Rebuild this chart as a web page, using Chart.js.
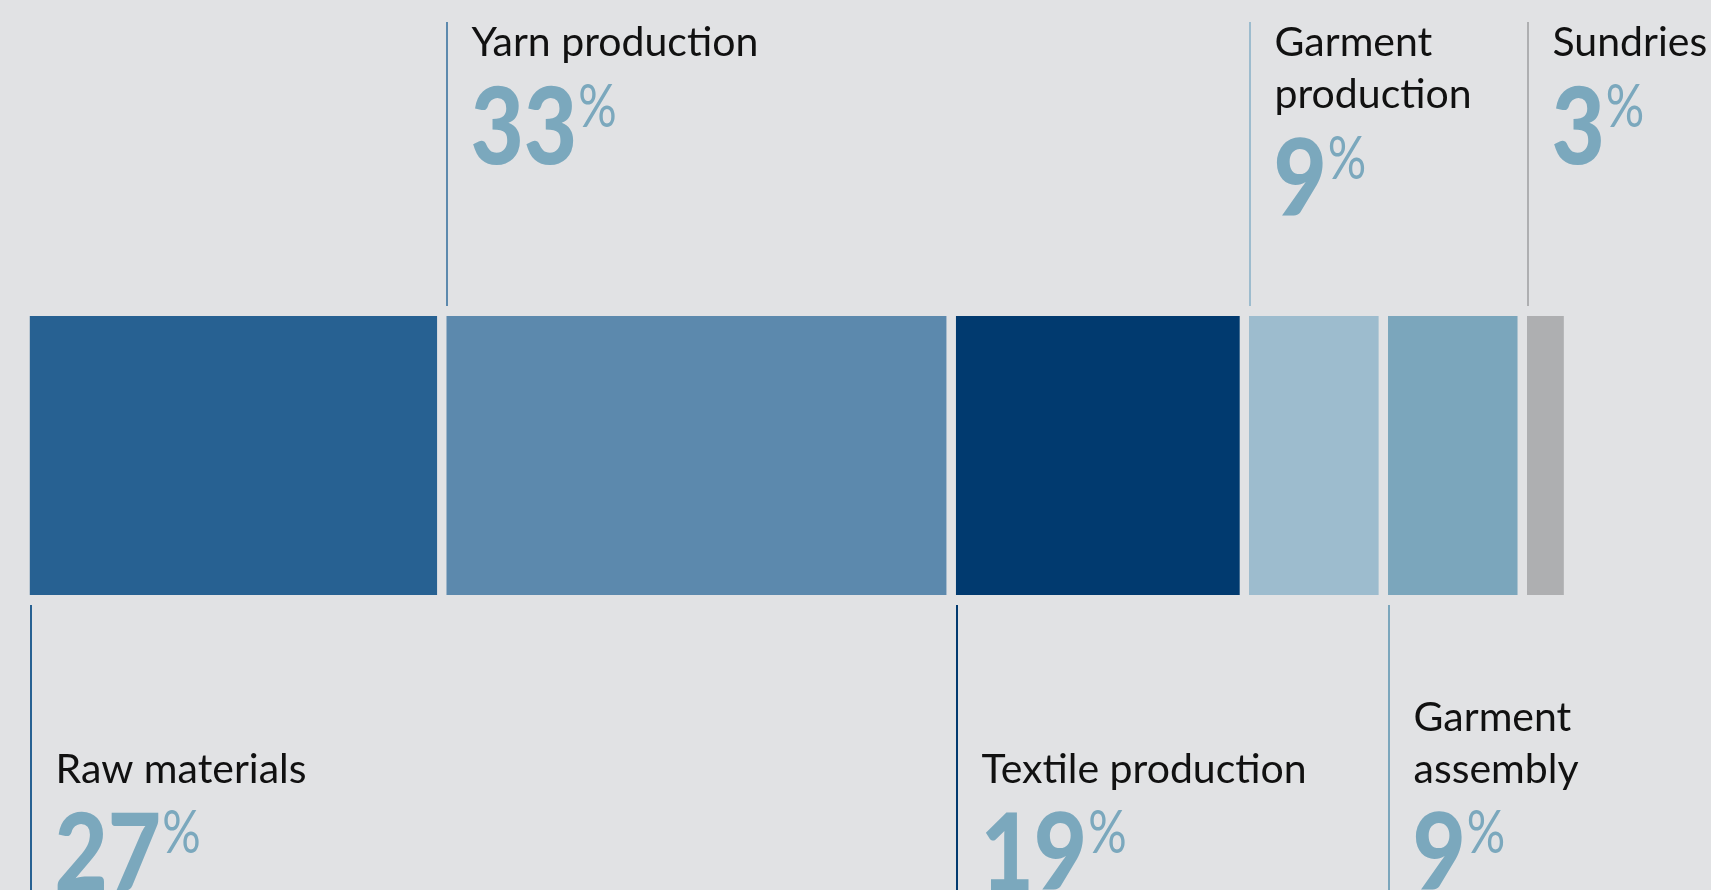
<!DOCTYPE html>
<html>
<head>
<meta charset="utf-8">
<script src="https://cdn.jsdelivr.net/npm/chart.js@4/dist/chart.umd.min.js"></script>
<style>
  html, body { margin: 0; padding: 0; background: #e1e2e4; }
  #wrap { width: 1711px; height: 890px; }
  canvas { display: block; }
</style>
</head>
<body>
<div id="wrap"><canvas id="chart" width="1711" height="890"></canvas></div>
<script>
// Stages of the garment value chain and their share of the total
const stages = ['Raw materials', 'Yarn production', 'Textile production', 'Garment production', 'Garment assembly', 'Sundries'];
const shares = [27, 33, 19, 9, 9, 3];
const stageLabelLines = [['Raw materials'], ['Yarn production'], ['Textile production'], ['Garment', 'production'], ['Garment', 'assembly'], ['Sundries']];
const labelSide = ['below', 'above', 'below', 'above', 'below', 'above'];
const barColors = ['#276192', '#5c89ad', '#013a6f', '#9dbcce', '#7ba6bc', '#aeafb1'];

const BG = '#e1e2e4';
const NUMBER_COLOR = '#7ba8bd';
const LABEL_FONT = '400 41px Lato, "Open Sans", sans-serif';
const DIGIT_FONT = '900 107px Lato, "Open Sans", sans-serif';
const PCT_FONT = '400 60px Lato, "Open Sans", sans-serif';

// Leader lines, stage names and share figures around each segment
const calloutPlugin = {
  id: 'callouts',
  afterDatasetsDraw(chart) {
    const ctx = chart.ctx;
    const area = chart.chartArea;
    const H = chart.height;
    chart.data.datasets.forEach((ds, i) => {
      const bar = chart.getDatasetMeta(i).data[0];
      if (!bar) return;
      const left = Math.min(bar.x, bar.base);
      const lineX = Math.round(left) + 1;
      const textX = lineX + 24.5;
      const lines = stageLabelLines[i];
      ctx.save();
      ctx.strokeStyle = barColors[i];
      ctx.lineWidth = 2;
      ctx.beginPath();
      let numTop;
      const baselines = [];
      if (labelSide[i] === 'above') {
        ctx.moveTo(lineX, 22);
        ctx.lineTo(lineX, area.top - 10);
        lines.forEach((_, k) => baselines.push(56 + 52 * k));
        numTop = baselines[baselines.length - 1] + 31;
      } else {
        ctx.moveTo(lineX, area.bottom + 10);
        ctx.lineTo(lineX, H);
        const n = lines.length;
        lines.forEach((_, k) => baselines.push(783 - 52 * (n - 1 - k)));
        numTop = 813;
      }
      ctx.stroke();

      // stage name
      ctx.fillStyle = '#111111';
      ctx.font = LABEL_FONT;
      ctx.textAlign = 'left';
      ctx.textBaseline = 'alphabetic';
      lines.forEach((t, k) => ctx.fillText(t, textX, baselines[k]));

      // share figure, digits then a raised percent sign
      const value = ds.data[0];
      const digits = String(value);
      const sx = 0.86;
      ctx.fillStyle = NUMBER_COLOR;
      ctx.font = DIGIT_FONT;
      const dw = ctx.measureText(digits).width * sx;
      ctx.save();
      ctx.translate(textX - 1, numTop + 77);
      ctx.scale(sx, 1);
      ctx.fillText(digits, 0, 0);
      ctx.restore();
      ctx.font = PCT_FONT;
      ctx.save();
      ctx.translate(textX - 1 + dw + 1, numTop - 4 + 44);
      ctx.scale(0.8, 1);
      ctx.fillText('%', 0, 0);
      ctx.restore();
      ctx.restore();
    });
  }
};

const datasets = stages.map((name, i) => ({
  label: name,
  data: [shares[i]],
  backgroundColor: barColors[i],
  borderColor: BG,
  borderWidth: { top: 0, right: 9.5, bottom: 0, left: 0 },
  borderSkipped: false,
  barPercentage: 1,
  categoryPercentage: 1,
  stack: 'chain'
}));

new Chart(document.getElementById('chart'), {
  type: 'bar',
  data: { labels: ['Share'], datasets },
  options: {
    indexAxis: 'y',
    responsive: false,
    animation: false,
    devicePixelRatio: 1,
    layout: { padding: { left: 29.5, right: 138, top: 316, bottom: 295 } },
    scales: {
      x: { stacked: true, min: 0, max: 100, display: false },
      y: { stacked: true, display: false }
    },
    plugins: {
      legend: { display: false },
      tooltip: { enabled: false }
    }
  },
  plugins: [calloutPlugin]
});
</script>
</body>
</html>
